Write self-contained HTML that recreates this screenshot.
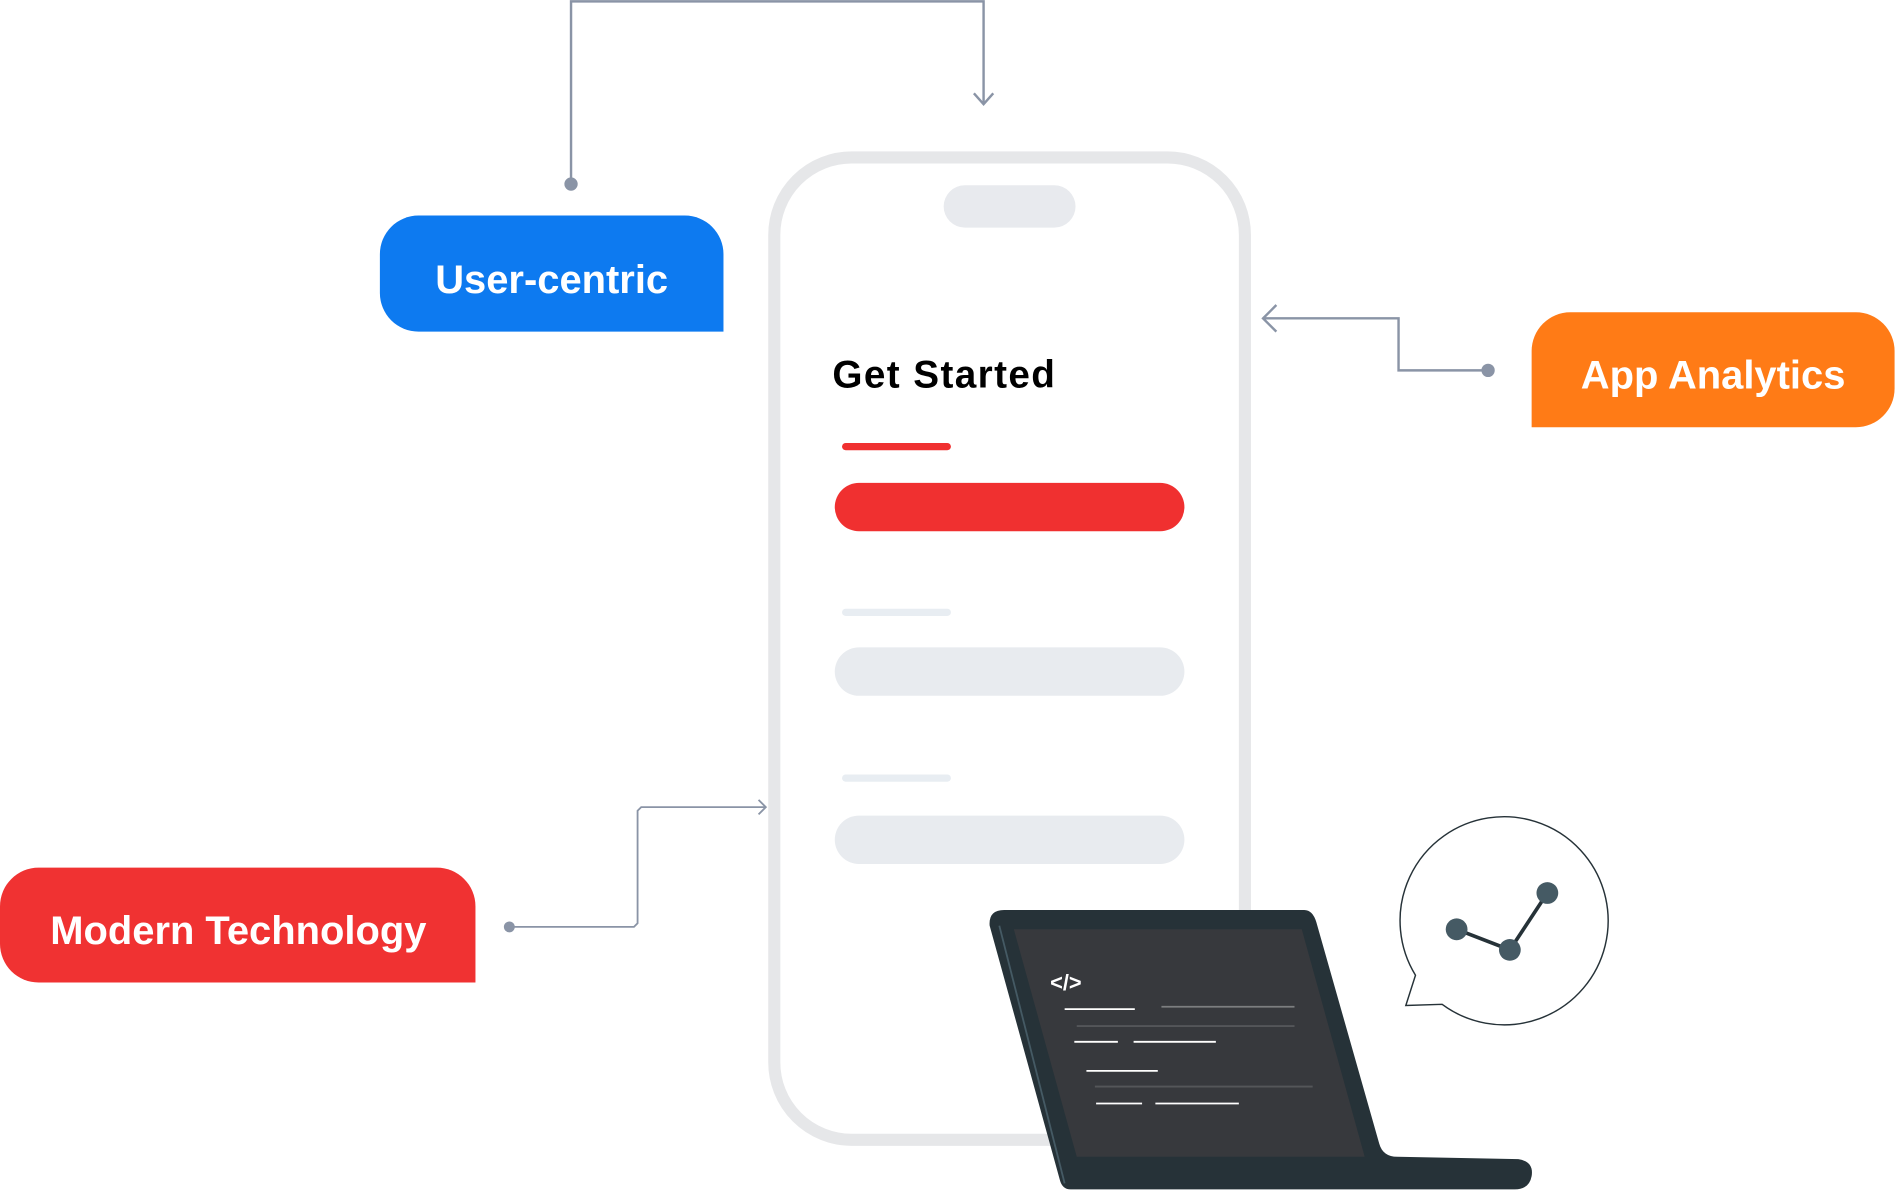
<!DOCTYPE html>
<html><head><meta charset="utf-8"><style>
html,body{margin:0;padding:0;background:#fff;width:1897px;height:1192px;overflow:hidden}
svg{display:block}
text{font-family:"Liberation Sans",sans-serif;font-weight:bold}
</style></head><body>
<svg width="1897" height="1192" viewBox="0 0 1568 985" xmlns="http://www.w3.org/2000/svg">
<polyline points="472,152 472,1 813,1 813,85" fill="none" stroke="#8a94a6" stroke-width="2"/>
<polyline points="805,77 813,86 821,77" fill="none" stroke="#8a94a6" stroke-width="2"/>
<circle cx="472" cy="152" r="5.5" fill="#8a94a6"/>
<path d="M346,178 H566 A32,32 0 0 1 598,210 V274 H346 A32,32 0 0 1 314,242 V210 A32,32 0 0 1 346,178 Z" fill="#0d7af0"/>
<text x="456" y="242" font-size="33" fill="#fff" text-anchor="middle">User-centric</text>
<rect x="640" y="130" width="389" height="812" rx="64" fill="#fff" stroke="#e6e7e9" stroke-width="10"/>
<rect x="780" y="153" width="109" height="35" rx="17.5" fill="#e8eaee"/>
<text x="688" y="320" font-size="32" fill="#000" textLength="184" lengthAdjust="spacing">Get Started</text>
<line x1="699" y1="369" x2="783" y2="369" stroke="#f03030" stroke-width="6" stroke-linecap="round"/>
<rect x="690" y="399" width="289" height="40" rx="20" fill="#f03030"/>
<line x1="699" y1="506" x2="783" y2="506" stroke="#e8edf2" stroke-width="6" stroke-linecap="round"/>
<rect x="690" y="535" width="289" height="40" rx="20" fill="#e8ebef"/>
<line x1="699" y1="643" x2="783" y2="643" stroke="#e8edf2" stroke-width="6" stroke-linecap="round"/>
<rect x="690" y="674" width="289" height="40" rx="20" fill="#e8ebef"/>
<path d="M1298,258 H1534 A32,32 0 0 1 1566,290 V321 A32,32 0 0 1 1534,353 H1266 V290 A32,32 0 0 1 1298,258 Z" fill="#ff7b16"/>
<text x="1416" y="321" font-size="33" fill="#fff" text-anchor="middle">App Analytics</text>
<polyline points="1230,306 1156,306 1156,263 1045,263" fill="none" stroke="#8a94a6" stroke-width="2"/>
<polyline points="1055,252 1044,263 1055,274" fill="none" stroke="#8a94a6" stroke-width="2"/>
<circle cx="1230" cy="306" r="5.5" fill="#8a94a6"/>
<path d="M32,717 H361 A32,32 0 0 1 393,749 V812 H32 A32,32 0 0 1 0,780 V749 A32,32 0 0 1 32,717 Z" fill="#f03232"/>
<text x="197" y="780" font-size="33" fill="#fff" text-anchor="middle">Modern Technology</text>
<polyline points="421,766 524,766 527,763 527,670 530,667 633,667" fill="none" stroke="#8a94a6" stroke-width="1.5"/>
<polyline points="627,661 633,667 627,673" fill="none" stroke="#8a94a6" stroke-width="1.5"/>
<circle cx="421" cy="766" r="4.5" fill="#8a94a6"/>
<path d="M818,765 Q817,752 830,752 H1078 Q1085,752 1088,762 L1140,945 Q1143,956 1155,956 L1255,958 Q1268,960 1266,972 Q1264,983 1252,983 H885 Q878,983 876,975 Z" fill="#263238"/>
<path d="M838,768 H1076 L1128,956 H890 Z" fill="#37393d"/>
<line x1="826" y1="765" x2="880" y2="978" stroke="#455a64" stroke-width="1.5"/>
<text x="868" y="818" font-size="18" fill="#fff" font-weight="normal" font-family="Liberation Mono,monospace">&lt;/&gt;</text>
<g stroke="#fff" stroke-width="1.5">
<line x1="880" y1="834" x2="938" y2="834"/><line x1="960" y1="832" x2="1070" y2="832" stroke-opacity=".35"/>
<line x1="888" y1="861" x2="924" y2="861"/><line x1="937" y1="861" x2="1005" y2="861"/>
<line x1="898" y1="885" x2="957" y2="885"/>
<line x1="906" y1="912" x2="944" y2="912"/><line x1="955" y1="912" x2="1024" y2="912"/>
<line x1="890" y1="848" x2="1070" y2="848" stroke-opacity=".15"/>
<line x1="905" y1="898" x2="1085" y2="898" stroke-opacity=".15"/>
</g>
<path d="M1170,806 A86,86 0 1 1 1192,830 L1162,831 Z" fill="#fff" stroke="#263238" stroke-width="1.2"/>
<polyline points="1204,768 1248,785 1279,738" fill="none" stroke="#263238" stroke-width="3"/>
<circle cx="1204" cy="768" r="9" fill="#455a64"/>
<circle cx="1248" cy="785" r="9" fill="#455a64"/>
<circle cx="1279" cy="738" r="9" fill="#455a64"/>
</svg>
</body></html>
